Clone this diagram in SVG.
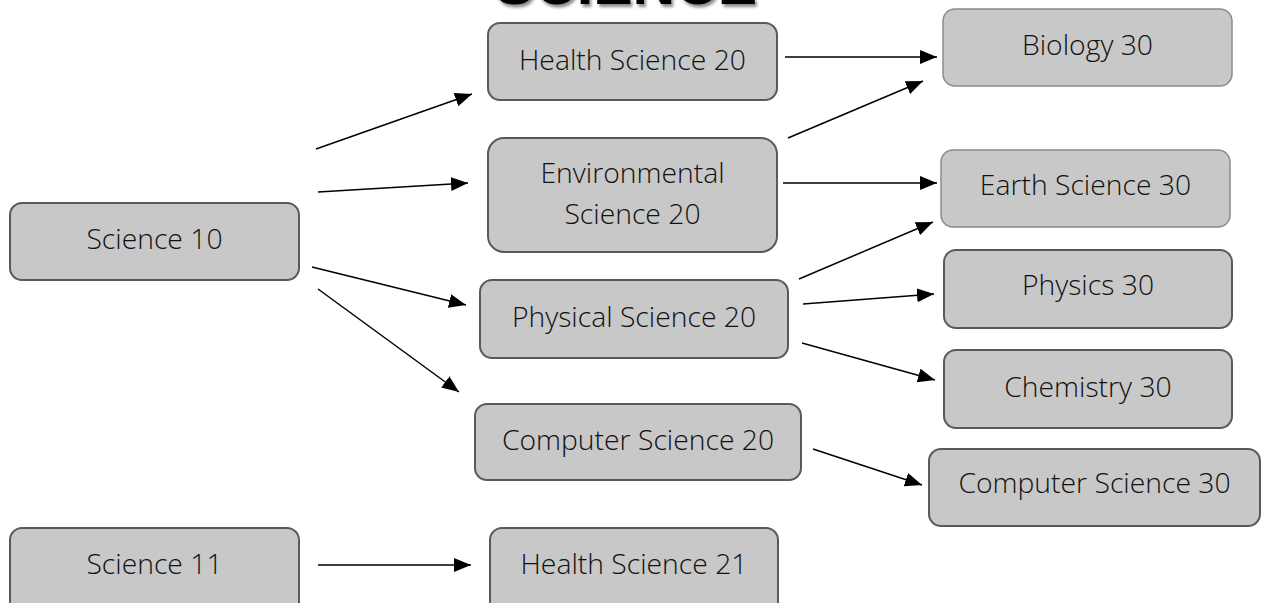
<svg xmlns="http://www.w3.org/2000/svg" width="1261" height="603" viewBox="0 0 1261 603">
<style>
.box{fill:#c8c8c8;stroke:#5a5a5a;stroke-width:2}
.box.light{stroke:#8a8a8a;stroke-width:1.5}
.lbl{font-family:"Open Sans","Liberation Sans",sans-serif;font-weight:300;font-size:28.3px;fill:#111;text-anchor:middle}
.conn line{stroke:#000;stroke-width:1.5;marker-end:url(#ah)}
.title{font-family:"Liberation Sans",Arial,sans-serif;font-weight:bold;font-size:59px;text-anchor:middle}
</style>
<defs>
<marker id="ah" markerUnits="userSpaceOnUse" markerWidth="18" markerHeight="14" viewBox="0 0 18 14" refX="17" refY="7" orient="auto">
<path d="M0,0 L17,7 L0,14 Z" fill="#000"/>
</marker>
<filter id="sh" x="-10%" y="-50%" width="120%" height="200%">
<feDropShadow dx="2" dy="3" stdDeviation="1.5" flood-color="#000" flood-opacity="0.45"/>
</filter>
</defs>
<rect width="1261" height="603" fill="#fff"/>
<g id="title">
<text class="title" x="626" y="4" fill="#000" filter="url(#sh)">SCIENCE</text>
</g>
<g id="science10"><rect class="box" x="10" y="203" width="289" height="77" rx="12"/><text class="lbl" x="154.5" y="249">Science 10</text></g>
<g id="healthscience20"><rect class="box" x="488" y="23" width="289" height="77" rx="12"/><text class="lbl" x="632.5" y="70">Health Science 20</text></g>
<g id="biology30"><rect class="box light" x="943" y="9" width="289" height="77" rx="12"/><text class="lbl" x="1087.5" y="55">Biology 30</text></g>
<g id="environmentalscience20"><rect class="box" x="488" y="138" width="289" height="114" rx="16"/><text class="lbl" x="632.5" y="183">Environmental</text><text class="lbl" x="632.5" y="224">Science 20</text></g>
<g id="earthscience30"><rect class="box light" x="941" y="150" width="289" height="77" rx="12"/><text class="lbl" x="1085.5" y="195">Earth Science 30</text></g>
<g id="physicalscience20"><rect class="box" x="480" y="280" width="308" height="78" rx="12"/><text class="lbl" x="634" y="327">Physical Science 20</text></g>
<g id="physics30"><rect class="box" x="944" y="250" width="288" height="78" rx="12"/><text class="lbl" x="1088" y="295">Physics 30</text></g>
<g id="chemistry30"><rect class="box" x="944" y="350" width="288" height="78" rx="12"/><text class="lbl" x="1088" y="397">Chemistry 30</text></g>
<g id="computerscience20"><rect class="box" x="475" y="404" width="326" height="76" rx="12"/><text class="lbl" x="638" y="450">Computer Science 20</text></g>
<g id="computerscience30"><rect class="box" x="929" y="449" width="331" height="77" rx="12"/><text class="lbl" x="1094.5" y="493">Computer Science 30</text></g>
<g id="science11"><rect class="box" x="10" y="528" width="289" height="90" rx="12"/><text class="lbl" x="154.5" y="574">Science 11</text></g>
<g id="healthscience21"><rect class="box" x="490" y="528" width="288" height="90" rx="12"/><text class="lbl" x="634" y="574">Health Science 21</text></g>
<g id="connectors" class="conn">
<line x1="316" y1="149" x2="472" y2="94"/>
<line x1="318" y1="192" x2="468" y2="183"/>
<line x1="312" y1="267" x2="466" y2="305"/>
<line x1="318" y1="289" x2="459" y2="392"/>
<line x1="785" y1="57" x2="937" y2="57"/>
<line x1="788" y1="138" x2="923" y2="81"/>
<line x1="783" y1="183" x2="937" y2="183"/>
<line x1="799" y1="279" x2="933" y2="222"/>
<line x1="803" y1="304" x2="934" y2="294"/>
<line x1="802" y1="343" x2="935" y2="380"/>
<line x1="813" y1="449" x2="922" y2="485"/>
<line x1="318" y1="565" x2="471" y2="565"/>
</g>
</svg>
